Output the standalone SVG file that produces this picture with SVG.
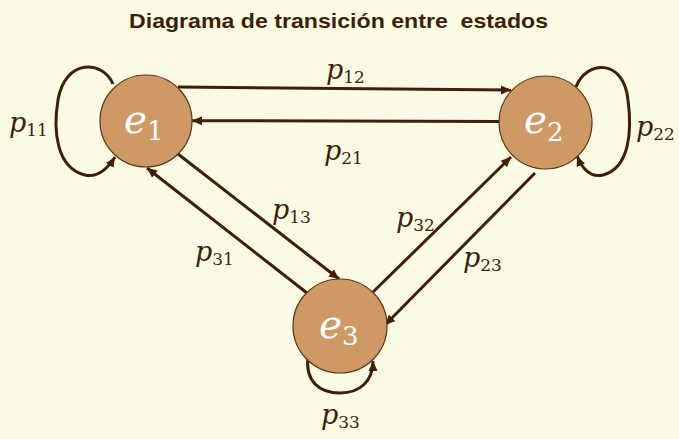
<svg xmlns="http://www.w3.org/2000/svg" width="679" height="439" viewBox="0 0 679 439">
<defs>
<style>
.bg{fill:#FBFAE4}
.title{font-family:"Liberation Sans",Arial,sans-serif;font-weight:bold;font-size:21px;fill:#3F1F08}
.node{fill:#CF9966;stroke:#5A3516;stroke-width:1.2}
.nl{font-family:"DejaVu Serif",serif;font-style:italic;font-size:39px;fill:#FFFFFF}
.nl .s{font-style:normal;font-size:26px}
.el{font-family:"DejaVu Serif",serif;font-style:italic;font-size:27px;fill:#3F1F08}
.el .s{font-style:normal;font-size:17px}
.edge{fill:none;stroke:#3F1F08;stroke-width:3;marker-end:url(#ah)}
</style>
<marker id="ah" markerUnits="userSpaceOnUse" markerWidth="11" markerHeight="10" refX="10" refY="5" orient="auto">
<path d="M0,0.5 L10,5 L0,9.5 z" fill="#3F1F08"/>
</marker>
</defs>
<rect class="bg" x="0" y="0" width="679" height="439"/>
<text class="title" x="129" y="28" textLength="419" lengthAdjust="spacingAndGlyphs" xml:space="preserve">Diagrama de transición entre  estados</text>
<g id="connectors">
<path class="edge" d="M178,87 L511,90"/>
<path class="edge" d="M499,121.5 L192,120.7"/>
<path class="edge" d="M178,154 L339,279"/>
<path class="edge" d="M307,293 L147,168"/>
<path class="edge" d="M373,292 L511,157"/>
<path class="edge" d="M535,173 L385,325"/>
<path class="edge" d="M113,84 C103,60 65,58 58,100 C53,130 56,168 85,175 C98,178 108,168 115,157"/>
<path class="edge" d="M576,87 C586,60 624,58 628,100 C632,130 630,168 603,175 C590,178 582,168 577,156"/>
<path class="edge" d="M308,357 C305,382 320,393 340,393 C360,393 373,381 373,361"/>
</g>
<g id="e1">
<circle class="node" cx="146" cy="121" r="46"/>
<text class="nl" x="124" y="133">e<tspan class="s" dy="7">1</tspan></text>
</g>
<g id="e2">
<circle class="node" cx="545.5" cy="122.5" r="46.5"/>
<text class="nl" x="524" y="133">e<tspan class="s" dy="8">2</tspan></text>
</g>
<g id="e3">
<circle class="node" cx="340" cy="326" r="47"/>
<text class="nl" x="319" y="338">e<tspan class="s" dy="7">3</tspan></text>
</g>
<g id="labels">
<text class="el" x="326" y="79">p<tspan class="s" dy="4">12</tspan></text>
<text class="el" x="324" y="160">p<tspan class="s" dy="4">21</tspan></text>
<text class="el" x="272" y="219">p<tspan class="s" dy="4">13</tspan></text>
<text class="el" x="195" y="261">p<tspan class="s" dy="4">31</tspan></text>
<text class="el" x="396" y="227">p<tspan class="s" dy="4">32</tspan></text>
<text class="el" x="463" y="267">p<tspan class="s" dy="4">23</tspan></text>
<text class="el" x="9" y="132">p<tspan class="s" dy="4">11</tspan></text>
<text class="el" x="636" y="136">p<tspan class="s" dy="4">22</tspan></text>
<text class="el" x="321" y="424">p<tspan class="s" dy="4">33</tspan></text>
</g>
</svg>
